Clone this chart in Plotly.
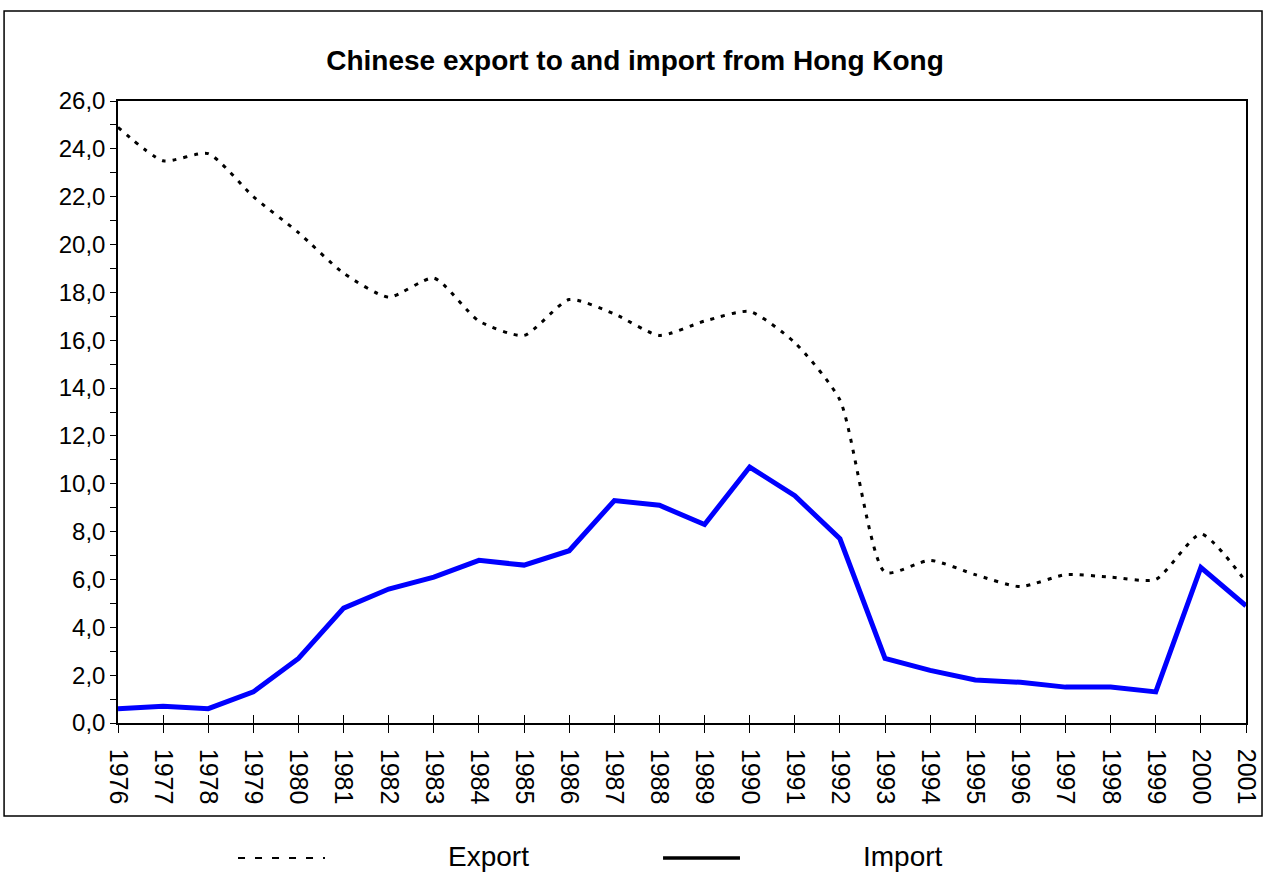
import plotly.graph_objects as go

years = list(range(1976, 2002))
export_share = [24.9, 23.5, 23.8, 22.0, 20.5, 18.8, 17.8, 18.6, 16.8, 16.2,
                17.7, 17.1, 16.2, 16.8, 17.2, 15.9, 13.5, 6.3, 6.8, 6.2,
                5.7, 6.2, 6.1, 6.0, 7.9, 5.9]
import_share = [0.6, 0.7, 0.6, 1.3, 2.7, 4.8, 5.6, 6.1, 6.8, 6.6,
                7.2, 9.3, 9.1, 8.3, 10.7, 9.5, 7.7, 2.7, 2.2, 1.8,
                1.7, 1.5, 1.5, 1.3, 6.5, 4.9]
y_ticks = list(range(0, 27, 2))

title_text = "Chinese export to and import from Hong Kong"
font_main = "Liberation Sans, Arial"

fig = go.Figure()
fig.add_trace(go.Scatter(
    x=years, y=export_share, name="Export", mode="lines",
    line=dict(color="black", width=3, dash="4px,7px", shape="spline", smoothing=0.6),
))
fig.add_trace(go.Scatter(
    x=years, y=import_share, name="Import", mode="lines",
    line=dict(color="#0000FF", width=5),
))
# dummy trace so the second x axis (inner half of the cross ticks) gets drawn
fig.add_trace(go.Scatter(x=[years[0]], y=[0], xaxis="x2", mode="lines",
                         showlegend=False, hoverinfo="skip", line=dict(width=0)))

fig.update_layout(
    width=1266, height=876,
    paper_bgcolor="white", plot_bgcolor="white",
    margin=dict(l=118, r=20, t=101, b=153),
    showlegend=False,
    separators=",.",
    title=dict(text="<b>" + title_text + "</b>", x=0.5016, y=0.931,
               xanchor="center", yanchor="middle",
               font=dict(family=font_main, size=28, color="black")),
    xaxis=dict(
        range=[years[0], years[-1]], tickmode="array", tickvals=years,
        ticktext=[str(y) for y in years], tickangle=90, automargin=False,
        ticks="outside", ticklen=8, tickcolor="black", tickwidth=1,
        showline=True, linecolor="black", linewidth=1.5, mirror=True,
        showgrid=False, zeroline=False, ticklabelstandoff=11,
        tickfont=dict(family=font_main, size=25, color="black"),
    ),
    xaxis2=dict(
        range=[years[0], years[-1]], overlaying="x", anchor="y",
        tickmode="array", tickvals=years, showticklabels=False,
        ticks="inside", ticklen=8, tickcolor="black", tickwidth=1,
        showgrid=False, zeroline=False, showline=False, automargin=False,
    ),
    yaxis=dict(
        range=[0, 26], tickmode="array", tickvals=y_ticks,
        tickformat=".1f", automargin=False,
        ticks="outside", ticklen=6, tickcolor="black", tickwidth=1,
        minor=dict(ticks="outside", dtick=1, ticklen=6, tickcolor="black"),
        showline=True, linecolor="black", linewidth=1.5, mirror=True,
        showgrid=False, zeroline=False,
        tickfont=dict(family=font_main, size=24, color="black"),
    ),
)

# outer chart border
fig.add_shape(type="rect", xref="paper", yref="paper",
              x0=-0.101, x1=1.0142, y0=-0.1495, y1=1.1447,
              line=dict(color="black", width=1.5))

# legend drawn below the border
fig.add_shape(type="line", xref="paper", yref="paper",
              x0=0.1064, x1=0.1835, y0=-0.217, y1=-0.217,
              line=dict(color="black", width=2, dash="7px,10px"))
fig.add_shape(type="line", xref="paper", yref="paper",
              x0=0.4832, x1=0.5514, y0=-0.217, y1=-0.217,
              line=dict(color="black", width=3.5))
fig.add_annotation(x=0.2917, y=-0.214, xref="paper", yref="paper",
                   text="Export", showarrow=False, xanchor="left", yanchor="middle",
                   borderpad=0, font=dict(family=font_main, size=28, color="black"))
fig.add_annotation(x=0.6596, y=-0.214, xref="paper", yref="paper",
                   text="Import", showarrow=False, xanchor="left", yanchor="middle",
                   borderpad=0, font=dict(family=font_main, size=28, color="black"))

# drop the default 8px page margin so the figure sits at the window's corner
fig.write_html("out.html", config={"displayModeBar": False},
               post_script="document.body.style.margin='0';")
